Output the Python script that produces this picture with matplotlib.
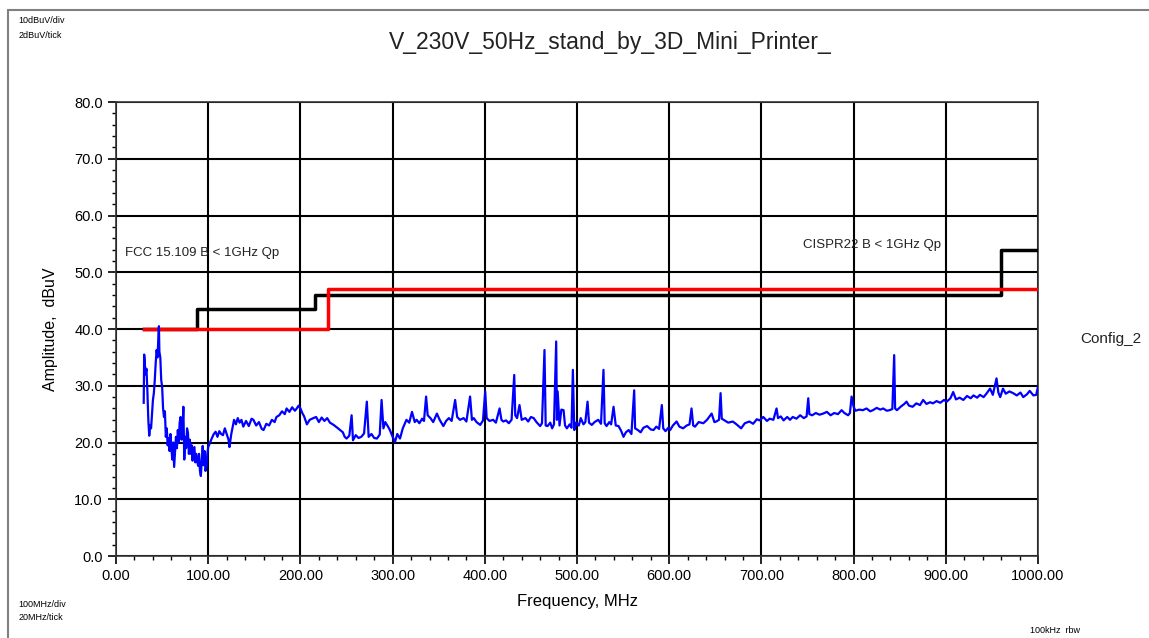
import matplotlib
matplotlib.use("Agg")
import matplotlib.pyplot as plt
from matplotlib.patches import Rectangle
from matplotlib.ticker import MultipleLocator, FormatStrFormatter

plt.rcParams['font.family'] = ['Liberation Sans', 'DejaVu Sans']

# measured trace (MHz, dBuV)
freq_mhz = [
    30, 30.5, 31, 32, 33, 34, 35, 36, 37, 38,
    39, 40, 41, 42, 43, 44, 45, 46, 46.5, 47,
    48, 49, 50, 51, 52, 53, 54, 55, 56, 57,
    58, 59, 60, 61, 62, 63, 64, 65, 66, 67,
    68, 69, 70, 71, 72, 73, 74, 75, 76, 77,
    78, 79, 80, 81, 82, 83, 84, 85, 86, 87,
    88, 89, 90, 91, 92, 93, 94, 95, 96, 97,
    98, 99, 100, 102, 104, 106, 108, 110, 112, 114,
    116, 118, 120, 122, 123, 125, 128, 130, 132, 134,
    136, 138, 141, 144, 147, 149, 152, 155, 158, 160,
    163, 166, 169, 172, 174, 177, 180, 183, 185, 188,
    191, 194, 196, 198, 200, 202, 204, 207, 210, 214,
    217, 220, 223, 226, 229, 232, 236, 240, 243, 246,
    248, 250, 253, 255.5, 257, 260, 263, 266, 269, 272,
    274, 277, 280, 283, 286, 288, 290, 292, 295, 297,
    300, 302.6, 305, 308, 311, 315, 318, 321, 324, 326,
    329, 332, 334, 336.3, 338, 341, 344, 348, 351, 355,
    358, 361, 364, 367.8, 370, 373, 377, 380, 384, 386,
    388, 391, 395, 398, 400.4, 402, 405, 409, 412, 416,
    418, 420, 423, 426, 429, 431.9, 433, 435, 437.6, 440,
    444, 447, 450, 453, 456, 460, 462, 464.7, 466, 468,
    471, 473, 475, 477.4, 478.2, 479, 481, 483, 485.4, 487,
    489, 492, 494, 495.5, 497, 499, 502, 504, 507, 509,
    511.4, 513, 516, 519, 523, 526, 528.7, 530, 532, 535,
    537, 539.6, 542, 545, 548, 550.4, 553, 556, 559, 562,
    563, 566, 569, 572, 576, 580, 583, 586, 589, 592,
    593.5, 596, 599, 601, 604, 608, 611, 615, 619, 622,
    624.2, 626, 628, 632, 637, 641, 646, 649, 651, 654,
    655.7, 657, 660, 664, 669, 673, 678, 682, 687, 691,
    695, 698, 702, 706, 709, 713, 716.4, 718, 721, 724,
    728, 731, 734, 738, 742, 746, 749, 750.8, 752, 755,
    759, 763, 767, 771, 775, 779, 783, 787, 790, 794,
    796, 797.8, 800, 802, 806, 810, 814, 818, 821, 825,
    829, 832, 836, 839, 842, 844, 845, 847, 851, 855,
    857.4, 860, 864, 868, 872, 875.4, 879, 883, 886, 890,
    894, 898, 901, 905, 908, 911, 915, 919, 923, 927,
    930, 934, 937, 941, 944, 948, 951, 955, 957, 959,
    962, 965, 969, 973, 977, 981, 984, 988, 991, 995,
    998, 1000,
]
amp_dbuv = [
    27.0, 35.5, 34.5, 32.0, 33.0, 29.0, 24.0, 21.2, 23.0, 22.5,
    25.0, 27.5, 28.7, 31.0, 34.0, 36.3, 35.0, 39.0, 40.5, 36.0,
    35.0, 31.0, 29.8, 26.0, 24.5, 25.5, 21.0, 22.5, 19.5, 20.8,
    18.5, 21.5, 19.0, 17.0, 20.0, 15.7, 18.5, 21.0, 19.0, 22.2,
    20.0, 23.5, 24.5, 20.5, 22.0, 26.3, 17.0, 21.0, 19.0, 22.5,
    21.7, 18.0, 20.5, 18.0, 19.5, 16.8, 19.0, 19.2, 16.5, 18.0,
    17.0, 15.9, 18.0, 15.0, 14.1, 17.0, 19.4, 16.0, 18.5, 15.0,
    15.9, 18.0, 19.2, 20.0, 20.8, 21.5, 21.9, 21.0, 22.0, 21.5,
    21.3, 22.5, 21.5, 20.5, 19.2, 21.5, 24.0, 23.2, 24.3, 23.5,
    24.0, 22.8, 23.8, 22.9, 24.2, 24.0, 23.0, 23.6, 22.4, 22.2,
    23.3, 23.0, 24.0, 23.6, 24.5, 24.8, 25.5, 25.0, 26.0, 25.4,
    26.2, 25.6, 26.0, 26.5, 26.0, 25.2, 24.6, 23.2, 24.0, 24.3,
    24.5, 23.6, 24.4, 23.8, 24.3, 23.5, 23.1, 22.6, 22.2, 21.8,
    21.0, 20.7, 21.2, 24.8, 20.4, 21.3, 20.8, 21.0, 21.6, 27.2,
    21.0, 21.5, 20.8, 20.7, 21.4, 27.5, 22.5, 23.6, 22.8, 22.2,
    21.0, 20.1, 21.5, 20.7, 22.5, 24.0, 23.5, 25.4, 23.6, 24.0,
    23.4, 24.2, 23.8, 28.1, 24.8, 24.3, 23.6, 25.1, 24.0, 22.9,
    23.8, 24.3, 23.8, 27.5, 24.5, 24.0, 24.3, 23.7, 28.1, 24.0,
    24.3, 23.6, 23.1, 23.9, 29.0, 24.3, 23.8, 24.0, 23.5, 26.0,
    24.0, 23.7, 23.9, 23.4, 24.0, 31.9, 24.8, 24.3, 26.6, 24.0,
    24.3, 23.7, 24.5, 24.3, 23.6, 22.9, 23.4, 36.3, 23.0, 22.9,
    23.5, 22.5, 23.2, 37.8, 24.0, 29.0, 23.0, 25.8, 25.7, 23.0,
    22.5, 23.2, 22.6, 32.8, 22.2, 23.5, 23.0, 24.3, 23.2, 23.6,
    27.2, 23.5, 23.1, 23.6, 24.0, 23.3, 32.8, 23.4, 22.9, 23.6,
    23.2, 26.3, 23.0, 22.9, 22.0, 21.0, 21.8, 22.2, 21.5, 29.2,
    22.5, 22.2, 21.8, 22.6, 22.9, 22.3, 22.2, 22.8, 22.4, 26.6,
    22.5, 22.0, 22.6, 22.2, 23.0, 23.7, 22.8, 22.5, 23.0, 23.2,
    26.0, 23.0, 22.8, 23.6, 23.4, 24.0, 25.1, 23.6, 23.7, 24.0,
    28.7, 24.2, 23.9, 23.5, 23.7, 23.2, 22.5, 23.4, 23.7, 23.3,
    24.1, 23.9, 24.5, 23.8, 24.2, 24.0, 26.0, 24.3, 24.6, 23.9,
    24.5, 24.0, 24.5, 24.2, 24.8, 24.3, 24.6, 27.8, 25.0, 24.8,
    25.2, 24.9, 25.1, 25.4, 24.8, 25.2, 25.0, 25.7, 25.2, 24.8,
    25.2, 28.1, 26.3, 25.6, 25.8, 25.7, 26.0, 25.5, 25.7, 26.1,
    25.8, 26.0, 25.6, 25.7, 25.9, 35.4, 26.0, 25.7, 26.3, 26.8,
    27.2, 26.5, 26.3, 26.9, 26.6, 27.5, 26.8, 27.1, 26.9, 27.3,
    27.0, 27.5, 27.2, 27.8, 28.9, 27.6, 27.9, 27.5, 28.2, 27.8,
    28.3, 27.9, 28.4, 28.0, 28.6, 29.5, 28.4, 31.3, 28.8, 28.0,
    29.5, 28.6, 29.0, 28.7, 28.3, 28.8, 28.0, 28.5, 29.1, 28.3,
    28.4, 29.8,
]

# limit lines (step edges)
fcc_f = [30, 88, 88, 216, 216, 960, 960, 1000]
fcc_lim = [40, 40, 43.5, 43.5, 46, 46, 54, 54]
cispr_f = [30, 230, 230, 1000]
cispr_lim = [40, 40, 47, 47]

fig = plt.figure(figsize=(11.49, 6.38), dpi=100)
ax = fig.add_axes([0.101, 0.1285, 0.8024, 0.7116])

ax.plot(fcc_f, fcc_lim, color='black', lw=2.5, zorder=3)
ax.plot(cispr_f, cispr_lim, color='#ff0000', lw=2.5, zorder=4)
ax.plot(freq_mhz, amp_dbuv, color='#0000ff', lw=1.6, zorder=5)

ax.set_xlim(0, 1000)
ax.set_ylim(0, 80)
ax.xaxis.set_major_locator(MultipleLocator(100))
ax.xaxis.set_minor_locator(MultipleLocator(20))
ax.yaxis.set_major_locator(MultipleLocator(10))
ax.yaxis.set_minor_locator(MultipleLocator(2))
ax.xaxis.set_major_formatter(FormatStrFormatter('%.2f'))
ax.yaxis.set_major_formatter(FormatStrFormatter('%.1f'))
ax.tick_params(which='major', length=6, width=1.2, labelsize=10.5)
ax.tick_params(which='minor', length=3, width=1)
ax.grid(True, which='major', color='black', lw=1.5)
for s in ax.spines.values():
    s.set_color('#333333')
    s.set_linewidth(1.2)

ax.set_xlabel('Frequency, MHz', fontsize=12, labelpad=8)
ax.set_ylabel('Amplitude,  dBuV', fontsize=11.5, labelpad=12)

ax.text(10, 53.4, 'FCC 15.109 B < 1GHz Qp', fontsize=9.5, va='center', color='#222222')
ax.text(745, 54.8, 'CISPR22 B < 1GHz Qp', fontsize=9.5, va='center', color='#222222')

fig.text(0.531, 0.934, 'V_230V_50Hz_stand_by_3D_Mini_Printer_', fontsize=16.5,
         ha='center', va='center', color='#222222')
fig.text(0.016, 0.968, '10dBuV/div', fontsize=6.5, va='center')
fig.text(0.016, 0.945, '2dBuV/tick', fontsize=6.5, va='center')
fig.text(0.016, 0.053, '100MHz/div', fontsize=6.5, va='center')
fig.text(0.016, 0.032, '20MHz/tick', fontsize=6.5, va='center')
fig.text(0.896, 0.012, '100kHz  rbw', fontsize=6.5, va='center')
fig.text(0.940, 0.468, 'Config_2', fontsize=11, va='center', color='#222222')

fig.patches.append(Rectangle((0.007, -0.05), 1.1, 1.034, transform=fig.transFigure,
                             fill=False, ec='#808080', lw=1.5))

fig.savefig('out.png', dpi=100)
